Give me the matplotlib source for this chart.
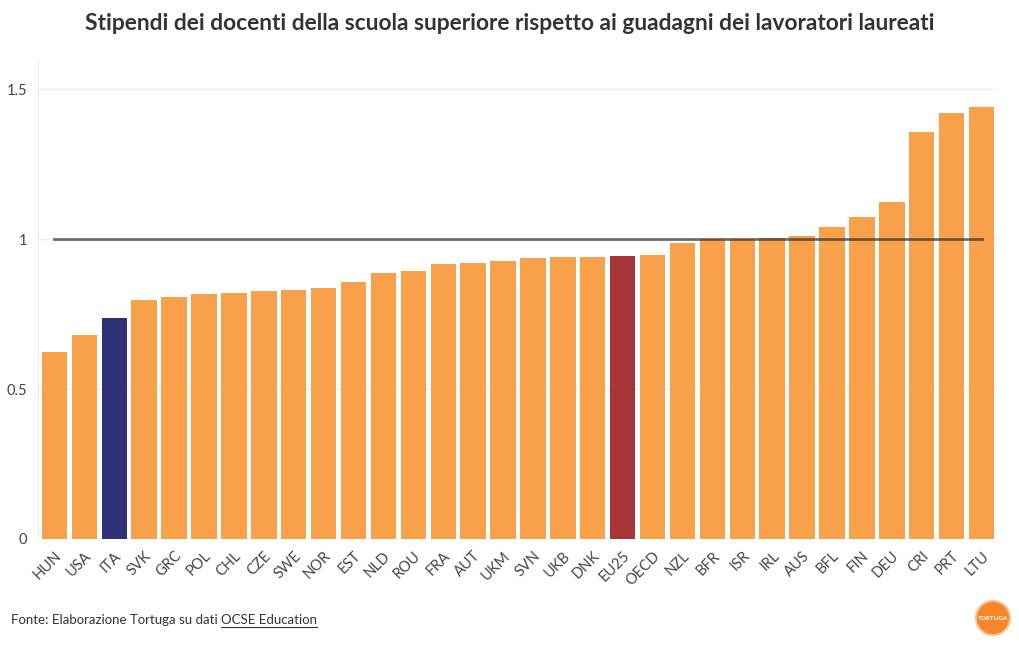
import matplotlib
matplotlib.use("Agg")
import matplotlib.pyplot as plt
from matplotlib.patches import Circle

plt.rcParams['font.family'] = ['Lato', 'DejaVu Sans']

# Data
countries = ['HUN', 'USA', 'ITA', 'SVK', 'GRC', 'POL', 'CHL', 'CZE', 'SWE', 'NOR',
             'EST', 'NLD', 'ROU', 'FRA', 'AUT', 'UKM', 'SVN', 'UKB', 'DNK', 'EU25',
             'OECD', 'NZL', 'BFR', 'ISR', 'IRL', 'AUS', 'BFL', 'FIN', 'DEU', 'CRI',
             'PRT', 'LTU']
ratios = [0.623, 0.68, 0.737, 0.797, 0.807, 0.817, 0.82, 0.827, 0.83, 0.837,
          0.857, 0.887, 0.893, 0.917, 0.92, 0.927, 0.937, 0.94, 0.94, 0.943,
          0.947, 0.987, 1.0, 1.0, 1.003, 1.01, 1.04, 1.073, 1.123, 1.357,
          1.42, 1.44]
reference = 1.0

orange = '#F9A04A'
highlight = {'ITA': '#2E3177', 'EU25': '#A8353A'}
colors = [highlight.get(c, orange) for c in countries]

fig = plt.figure(figsize=(10.2, 6.5), dpi=100)
ax = fig.add_axes([38 / 1020, 1 - 539 / 650, (998 - 38) / 1020, (539 - 60) / 650])

x = range(len(countries))
ax.bar(x, ratios, width=0.85, color=colors, zorder=2)
ax.plot([0, len(countries) - 1], [reference, reference], color='#333333',
        alpha=0.7, linewidth=2.0, zorder=3)

ax.set_xlim(-0.55, len(countries) - 0.45)
ax.set_ylim(0, 1.597)
ax.set_yticks([0, 0.5, 1, 1.5])
ax.set_yticklabels(['0', '0.5', '1', '1.5'])
ax.set_xticks(list(x))
ax.set_xticklabels(countries, rotation=45, ha='right', rotation_mode='anchor')
ax.tick_params(axis='both', length=0, labelsize=10.5, colors='#444444')
ax.tick_params(axis='x', pad=7)
ax.tick_params(axis='y', pad=8)
ax.grid(axis='y', color='#eeeeee', linewidth=1, zorder=0)
for s in ['top', 'right', 'bottom']:
    ax.spines[s].set_visible(False)
ax.spines['left'].set_color('#eeeeee')

fig.text(510 / 1020, 1 - 24 / 650, 'Stipendi dei docenti della scuola superiore rispetto ai guadagni dei lavoratori laureati',
         ha='center', va='center', fontsize=16.4, fontweight='bold', color='#333333')

src = fig.text(11 / 1020, 1 - 620 / 650, 'Fonte: Elaborazione Tortuga su dati ',
               ha='left', va='center', fontsize=9.5, color='#333333')
fig.canvas.draw()
bb = src.get_window_extent()
link = fig.text(bb.x1 / 1020, 1 - 620 / 650, 'OCSE Education', ha='left', va='center',
                fontsize=9.5, color='#333333')
lb = link.get_window_extent()
fig.add_artist(plt.Line2D([lb.x0 / 1020, lb.x1 / 1020], [(lb.y0 - 1) / 650, (lb.y0 - 1) / 650],
                          color='#333333', linewidth=0.8, transform=fig.transFigure))

# Tortuga logo
logo = Circle((993 / 100, (650 - 618) / 100), 0.17, transform=fig.dpi_scale_trans,
              facecolor='#F5862A', edgecolor='#FBC08A', linewidth=1.5)
fig.add_artist(logo)
fig.text(993 / 1020, 1 - 618 / 650, 'TORTUGA', ha='center', va='center', fontsize=4.5,
         fontweight='bold', color='white')

fig.savefig('out.png', dpi=100, facecolor='white')
